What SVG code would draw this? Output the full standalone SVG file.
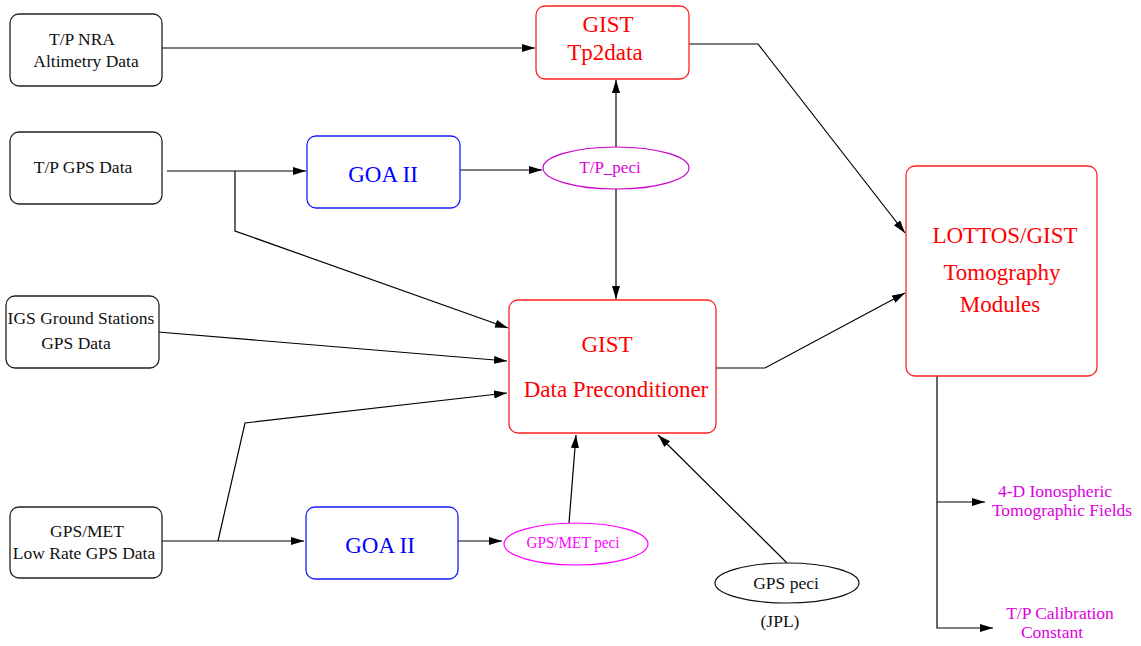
<svg xmlns="http://www.w3.org/2000/svg" width="1141" height="646" viewBox="0 0 1141 646">
<style>
text{font-family:"Liberation Serif","Times New Roman",serif;text-anchor:middle}
.s{font-size:17.5px;fill:#111}
.b{font-size:23px}
.red{fill:#ff0000}
.blue{fill:#0000ff}
.mag{fill:#dd00dd}
.box{fill:#fff;stroke:#222;stroke-width:1.3}
.rbox{fill:#fff;stroke:#ff2020;stroke-width:1.3}
.bbox{fill:#fff;stroke:#1a1aff;stroke-width:1.3}
.c{fill:none;stroke:#000;stroke-width:1.2;marker-end:url(#ah)}
.cl{fill:none;stroke:#000;stroke-width:1.2}
</style>
<defs>
<marker id="ah" markerUnits="userSpaceOnUse" markerWidth="14" markerHeight="10" refX="13" refY="4" orient="auto">
<path d="M0,0 L13,4 L0,8 Z" fill="#000"/>
</marker>
</defs>
<rect width="1141" height="646" fill="#fff"/>
<g id="connectors">
<path class="c" d="M162,48 H535"/>
<path class="c" d="M167,171 H306"/>
<path class="c" d="M235,171 V231 L508,328"/>
<path class="c" d="M460,170 H542"/>
<path class="c" d="M616,147 V80"/>
<path class="c" d="M616,189 V299"/>
<path class="c" d="M689,44 H758 L905,233"/>
<path class="c" d="M158,332 L507,361"/>
<path class="c" d="M218,541 L245,423 L507,393"/>
<path class="cl" d="M162,541 H218"/>
<path class="c" d="M218,541 H304"/>
<path class="c" d="M458,541 H502"/>
<path class="c" d="M569,523 L576,435"/>
<path class="c" d="M787,563 L658,435"/>
<path class="c" d="M716,368 H765 L905,293"/>
<path class="c" d="M937,376 V628 H993"/>
<path class="c" d="M937,502 H985"/>
</g>
<g id="tp-nra">
<rect class="box" x="10" y="14" width="152" height="72" rx="9"/>
<text class="s" x="82" y="45">T/P NRA</text>
<text class="s" x="86" y="67">Altimetry Data</text>
</g>
<g id="tp-gps">
<rect class="box" x="10" y="132" width="152" height="72" rx="9"/>
<text class="s" x="83" y="173">T/P GPS Data</text>
</g>
<g id="igs">
<rect class="box" x="6" y="296" width="153" height="72" rx="9"/>
<text class="s" x="81" y="324">IGS Ground Stations</text>
<text class="s" x="76" y="349">GPS Data</text>
</g>
<g id="gps-met">
<rect class="box" x="10" y="507" width="152" height="71" rx="9"/>
<text class="s" x="87" y="537">GPS/MET</text>
<text class="s" x="84" y="559">Low Rate GPS Data</text>
</g>
<g id="goa-top">
<rect class="bbox" x="307" y="136" width="153" height="72" rx="9"/>
<text class="b blue" x="383" y="182">GOA II</text>
</g>
<g id="goa-bottom">
<rect class="bbox" x="306" y="507" width="152" height="72" rx="9"/>
<text class="b blue" x="380" y="553">GOA II</text>
</g>
<g id="tp2data">
<rect class="rbox" x="536" y="6" width="153" height="73" rx="9"/>
<text class="b red" x="608" y="32">GIST</text>
<text class="b red" x="605" y="60">Tp2data</text>
</g>
<g id="tp-peci">
<ellipse cx="616" cy="168" rx="73" ry="21" fill="#fff" stroke="#cc00cc" stroke-width="1.2"/>
<text class="s mag" x="610" y="173" style="font-size:17px">T/P_peci</text>
</g>
<g id="preconditioner">
<rect class="rbox" x="509" y="300" width="207" height="133" rx="9"/>
<text class="b red" x="607" y="352">GIST</text>
<text class="b red" x="616" y="397">Data Preconditioner</text>
</g>
<g id="gpsmet-peci">
<ellipse cx="576" cy="544" rx="72" ry="21" fill="#fff" stroke="#ff00ff" stroke-width="1.2"/>
<text x="573" y="548" style="font-size:16px;fill:#ff00ff" textLength="93" lengthAdjust="spacingAndGlyphs">GPS/MET peci</text>
</g>
<g id="gps-peci">
<ellipse cx="787" cy="583" rx="72" ry="20" fill="#fff" stroke="#111" stroke-width="1.2"/>
<text class="s" x="786" y="589">GPS peci</text>
<text class="s" x="780" y="627">(JPL)</text>
</g>
<g id="lottos">
<rect class="rbox" x="906" y="166" width="191" height="210" rx="9"/>
<text class="b red" x="1005" y="243">LOTTOS/GIST</text>
<text class="b red" x="1002" y="280">Tomography</text>
<text class="b red" x="1000" y="312">Modules</text>
</g>
<g id="iono-fields">
<text class="s mag" x="1055" y="497">4-D Ionospheric</text>
<text class="s mag" x="1062" y="516">Tomographic Fields</text>
</g>
<g id="calibration">
<text class="s mag" x="1060" y="619">T/P Calibration</text>
<text class="s mag" x="1052" y="638">Constant</text>
</g>
</svg>
